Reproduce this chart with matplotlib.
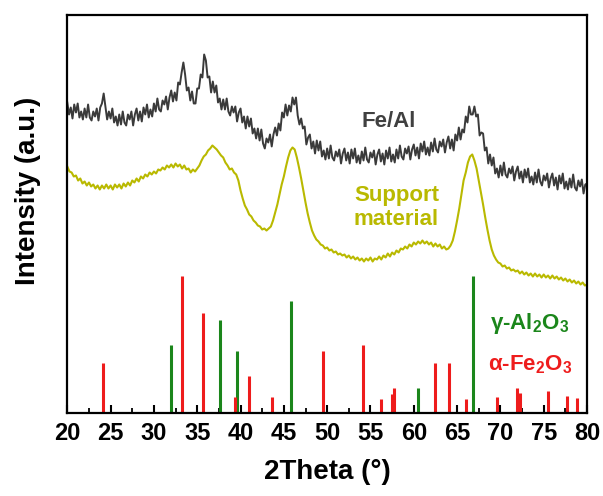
import matplotlib
matplotlib.use("Agg")
import matplotlib.pyplot as plt
import numpy as np
from matplotlib.ticker import MultipleLocator

plt.rcParams["font.family"] = ["Liberation Sans", "DejaVu Sans"]
plt.rcParams["font.weight"] = "bold"
plt.rcParams["mathtext.fontset"] = "custom"
plt.rcParams["mathtext.rm"] = "Liberation Sans"
plt.rcParams["mathtext.bf"] = "Liberation Sans:bold"
plt.rcParams["mathtext.it"] = "Liberation Sans:italic"

# scan grids (deg)
theta_fe = np.arange(20.0, 80.001, 0.2)
theta_sup = np.arange(20.0, 80.001, 0.25)

# Fe/Al pattern (a.u.), one row per degree
fe_al = [
    310, 298, 305, 294, 308,  300, 309, 295, 301, 293,
    304, 295, 308, 295, 292,  301, 296, 304, 292, 305,
    309, 319, 306, 293, 301,  294, 304, 290, 296, 287,
    298, 288, 301, 290, 287,  298, 293, 301, 287, 298,
    304, 292, 301, 291, 305,  298, 308, 295, 303, 296,
    309, 301, 314, 303, 301,  312, 308, 316, 303, 315,
    322, 311, 320, 312, 330,  328, 340, 350, 338, 322,
    325, 312, 321, 309, 309,  324, 324, 338, 335, 358,
    352, 335, 336, 320, 331,  320, 327, 310, 314, 303,
    313, 303, 314, 301, 297,  306, 300, 306, 291, 300,
    304, 290, 296, 284, 296,  286, 294, 279, 284, 274,
    284, 272, 283, 269, 264,  274, 270, 278, 266, 278,
    285, 277, 289, 282, 300,  295, 308, 297, 307, 301,
    315, 308, 315, 297, 288,  294, 284, 286, 268, 275,
    278, 264, 271, 259, 272,  262, 271, 256, 262, 253,
    264, 254, 267, 255, 252,  261, 256, 263, 249, 259,
    264, 252, 260, 249, 263,  254, 264, 250, 257, 249,
    261, 252, 265, 253, 250,  260, 255, 262, 248, 258,
    263, 251, 259, 248, 262,  254, 265, 251, 258, 250,
    263, 254, 267, 256, 253,  264, 259, 266, 253, 263,
    268, 257, 265, 254, 269,  261, 271, 258, 265, 257,
    270, 261, 274, 263, 260,  271, 266, 273, 260, 270,
    276, 264, 273, 262, 278,  272, 285, 273, 283, 280,
    296, 290, 306, 298, 298,  306, 296, 298, 277, 280,
    279, 262, 265, 249, 258,  247, 255, 239, 244, 235,
    247, 237, 250, 238, 235,  244, 239, 246, 232, 241,
    246, 234, 241, 230, 243,  235, 244, 230, 236, 228,
    240, 230, 243, 231, 227,  237, 232, 239, 225, 234,
    239, 227, 235, 223, 237,  229, 239, 224, 231, 223,
    234, 225, 238, 225, 222,  232, 226, 233, 219, 228,
    229,
]

# Support material pattern (a.u.)
support = [
    246, 241, 240, 236, 237, 232, 234, 229, 231, 227, 230, 226,
    228, 224, 227, 223, 227, 224, 228, 224, 227, 223, 228, 225,
    228, 224, 229, 226, 230, 227, 232, 230, 234, 231, 236, 234,
    238, 236, 240, 238, 241, 239, 243, 242, 245, 243, 247, 245,
    248, 245, 249, 246, 248, 244, 247, 243, 244, 240, 243, 241,
    244, 247, 252, 256, 258, 262, 264, 267, 265, 263, 260, 257,
    255, 250, 247, 243, 244, 240, 238, 232, 222, 214, 207, 203,
    198, 196, 192, 190, 187, 186, 183, 184, 182, 184, 186, 192,
    200, 208, 218, 228, 236, 246, 255, 262, 265, 263, 255, 245,
    234, 222, 210, 199, 190, 182, 177, 173, 171, 168, 167, 164,
    165, 162, 163, 160, 161, 158, 159, 157, 158, 155, 157, 154,
    156, 153, 155, 152, 154, 151, 154, 152, 155, 151, 154, 153,
    156, 153, 157, 155, 159, 156, 160, 158, 162, 160, 164, 163,
    166, 164, 168, 166, 170, 168, 171, 169, 172, 169, 171, 168,
    170, 166, 169, 166, 168, 164, 166, 163, 164, 167, 172, 181,
    192, 204, 218, 232, 240, 250, 256, 258, 252, 244, 232, 220,
    208, 195, 183, 172, 163, 157, 153, 150, 149, 146, 147, 144,
    145, 142, 143, 141, 142, 139, 141, 138, 140, 137, 139, 136,
    139, 136, 138, 135, 138, 135, 137, 134, 137, 134, 136, 133,
    135, 132, 134, 131, 133, 130, 132, 129, 131, 128, 130, 127,
    128,
]

# reference stick patterns: positions (deg) and heights (a.u.)
hematite_pos = [24.15, 33.24, 35.66, 39.31, 40.92, 43.58, 49.54, 54.12,
                56.2, 57.43, 57.66, 62.5, 64.04, 66.04, 69.66, 71.97,
                72.27, 75.5, 77.74, 78.8]
hematite_h = [50, 137, 100, 16, 37, 16, 62, 68,
              14, 19, 25, 50, 50, 14, 16, 25,
              20, 22, 17, 15]
alumina_pos = [32.0, 37.66, 39.54, 45.85, 60.46, 66.81]
alumina_h = [68, 93, 62, 112, 25, 137]

dark = "#3a3a3a"
olive = "#b9b900"
green = "#1b861b"
red = "#ee1c1c"

fig = plt.figure(figsize=(6.03, 4.96), dpi=100)
ax = fig.add_axes([0.1116, 0.1683, 0.8619, 0.8015])

ax.plot(theta_fe, fe_al, color=dark, lw=1.4)
ax.plot(theta_sup, support, color=olive, lw=1.5)
ax.vlines(alumina_pos, 0, alumina_h, color=green, lw=2.2)
ax.vlines(hematite_pos, 0, hematite_h, color=red, lw=2.2)

ax.text(57.1, 291, "Fe/Al", color="#404040", fontsize=16,
        ha="center", va="center")
ax.text(58.0, 205, "Support\nmaterial", color=olive, fontsize=16,
        ha="center", va="center", linespacing=1.15)
ax.text(73.4, 89, "γ-Al$_\\mathbf{2}$O$_\\mathbf{3}$", color=green,
        fontsize=16, ha="center", va="center")
ax.text(73.45, 48, "α-Fe$_\\mathbf{2}$O$_\\mathbf{3}$", color=red,
        fontsize=16, ha="center", va="center")

ax.set_xlim(20, 80)
ax.set_ylim(0, 397.5)
ax.xaxis.set_major_locator(MultipleLocator(5))
ax.xaxis.set_minor_locator(MultipleLocator(2.5))
ax.set_yticks([])
ax.tick_params(axis="x", which="major", direction="in", length=6, width=1.5,
               labelsize=17, pad=7)
ax.tick_params(axis="x", which="minor", direction="in", length=3.5, width=1.3)
for sp in ax.spines.values():
    sp.set_linewidth(1.6)

ax.set_xlabel("2Theta (°)", fontsize=20, fontweight="bold", labelpad=10)
ax.set_ylabel("Intensity (a.u.)", fontsize=20, fontweight="bold")
ax.yaxis.set_label_coords(-0.05, 0.557)

fig.savefig("out.png", dpi=100)
